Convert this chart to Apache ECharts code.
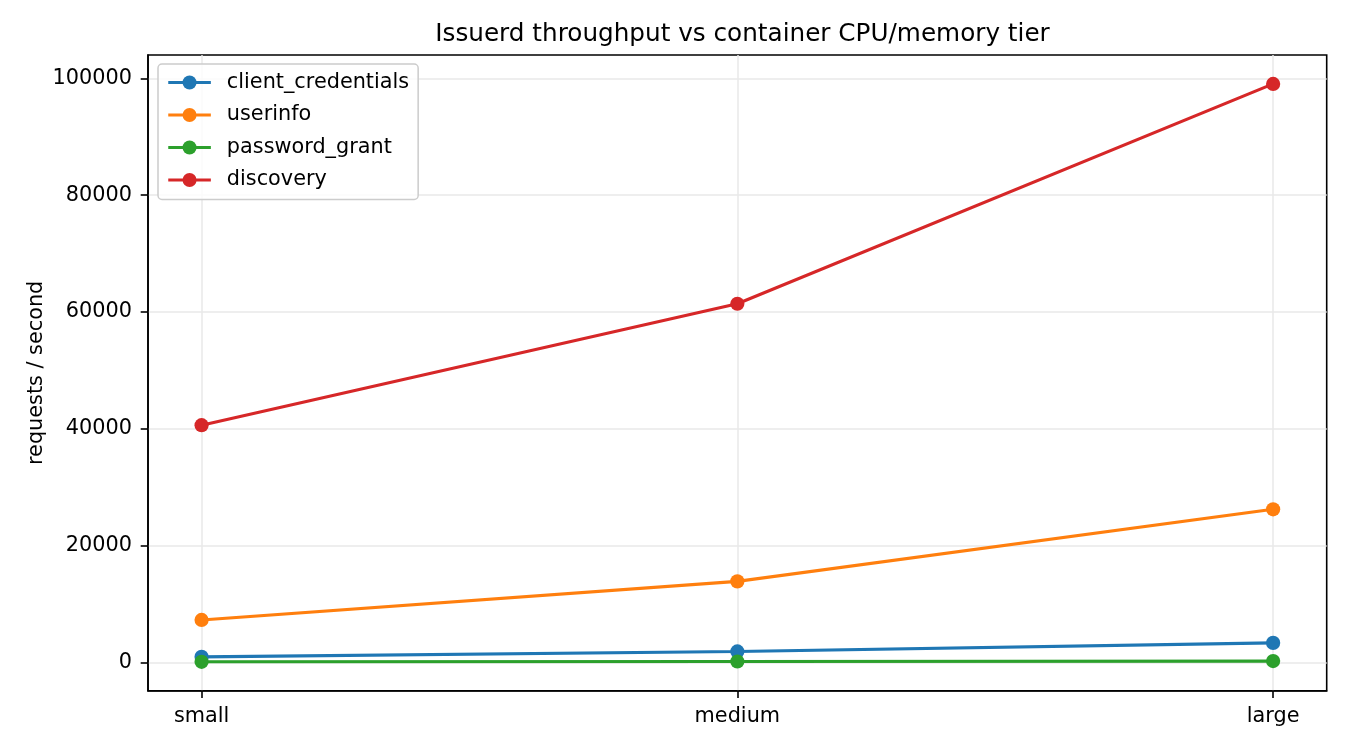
<!DOCTYPE html>
<html>
<head>
<meta charset="utf-8">
<script src="https://cdn.jsdelivr.net/npm/echarts@6/dist/echarts.min.js"></script>
<style>
html,body{margin:0;padding:0;background:#fff;}
#chart{width:1350px;height:750px;}
</style>
</head>
<body>
<div id="chart"></div>
<script>
const categories = ['small', 'medium', 'large'];
const clientCredentials = [920, 1850, 3320];
const userinfo = [7250, 13850, 26200];
const passwordGrant = [80, 130, 200];
const discovery = [40600, 61400, 99050];
const yTicks = [0, 20000, 40000, 60000, 80000, 100000];
const seriesNames = ['client_credentials', 'userinfo', 'password_grant', 'discovery'];
const seriesValues = [clientCredentials, userinfo, passwordGrant, discovery];
const colors = ['#1f77b4', '#ff7f0e', '#2ca02c', '#d62728'];

const FONT = 'DejaVu Sans';
const chart = echarts.init(document.getElementById('chart'), null, {renderer: 'canvas'});

const series = seriesNames.map((name, i) => ({
  name: name,
  type: 'line',
  data: seriesValues[i].map((v, j) => [j, v]),
  symbol: 'circle',
  symbolSize: 14.2,
  showSymbol: true,
  animation: false,
  z: 2 + i,
  lineStyle: {width: 3.1, color: colors[i]},
  itemStyle: {color: colors[i]},
  emphasis: {disabled: true}
}));

chart.setOption({
  animation: false,
  backgroundColor: '#ffffff',
  title: {
    text: 'Issuerd throughput vs container CPU/memory tier',
    left: 737.5,
    textAlign: 'center',
    top: 17,
    textStyle: {fontFamily: FONT, fontSize: 24.7, fontWeight: 'normal', color: '#000'}
  },
  legend: {
    orient: 'vertical',
    left: 158,
    top: 64,
    padding: [8, 9, 9, 8.7],
    itemGap: 11.5,
    itemWidth: 42.6,
    itemHeight: 17.5,
    backgroundColor: 'rgba(255,255,255,0.8)',
    borderColor: '#cccccc',
    borderWidth: 1.5,
    borderRadius: 4,
    lineStyle: {width: 3.1},
    textStyle: {fontFamily: FONT, fontSize: 20.8, color: '#000', lineHeight: 20, padding: [0, 0, 0, 11]},
    data: seriesNames
  },
  grid: {
    left: 148, right: 23.3, top: 55, bottom: 59.3,
    show: true, borderColor: '#000', borderWidth: 1.6, backgroundColor: 'transparent'
  },
  xAxis: {
    type: 'value',
    min: -0.1,
    max: 2.1,
    axisLine: {show: true, onZero: false, lineStyle: {color: '#000', width: 1.6}},
    axisTick: {show: true, length: 7.3, lineStyle: {color: '#000', width: 1.6}, customValues: [0, 1, 2]},
    axisLabel: {
      customValues: [0, 1, 2],
      formatter: v => categories[Math.round(v)] || '',
      fontFamily: FONT, fontSize: 20.8, color: '#000', margin: 15
    },
    splitLine: {show: true, lineStyle: {color: '#e8e8e8', width: 1.5}}
  },
  yAxis: {
    type: 'value',
    min: -4870,
    max: 104000,
    name: 'requests / second',
    nameLocation: 'middle',
    nameGap: 101,
    nameMoveOverlap: false,
    nameTextStyle: {fontFamily: FONT, fontSize: 20.8, color: '#000'},
    axisLine: {show: true, onZero: false, lineStyle: {color: '#000', width: 1.6}},
    axisTick: {show: true, length: 7.3, lineStyle: {color: '#000', width: 1.6}, customValues: yTicks},
    axisLabel: {
      customValues: yTicks,
      formatter: v => String(v),
      fontFamily: FONT, fontSize: 20.8, color: '#000', margin: 16, padding: [3, 0, 0, 0]
    },
    splitLine: {show: true, lineStyle: {color: '#e8e8e8', width: 1.5}}
  },
  series: series
});
</script>
</body>
</html>
